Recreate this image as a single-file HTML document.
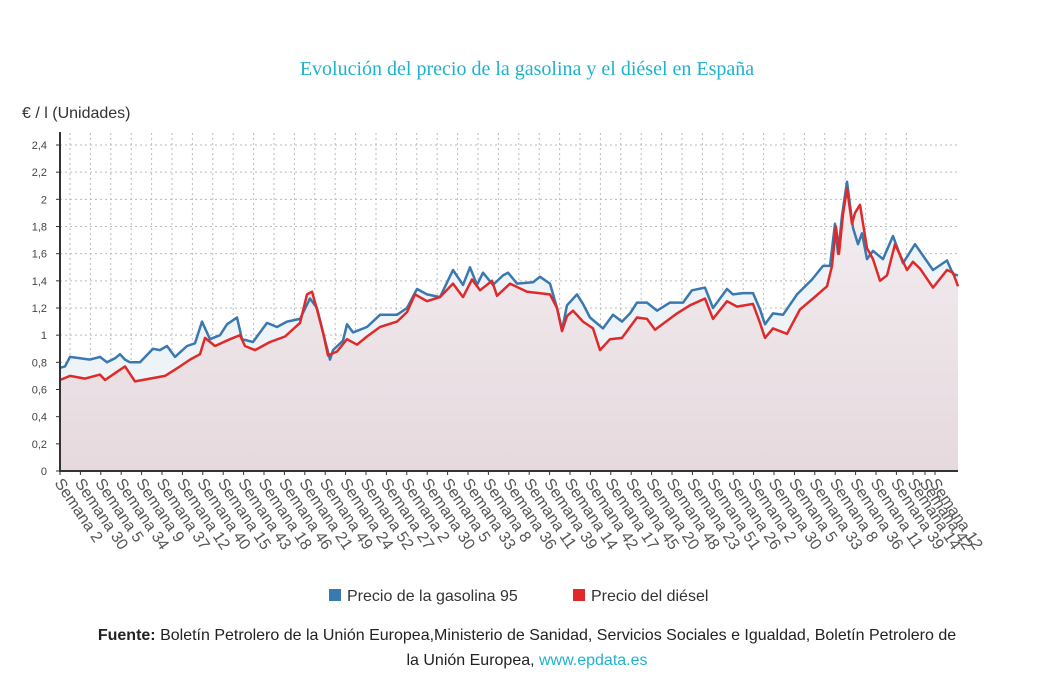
<!DOCTYPE html>
<html><head><meta charset="utf-8"><style>
body{margin:0;background:#fff;width:1056px;height:686px;overflow:hidden;font-family:"Liberation Sans",sans-serif}
svg{position:absolute;left:0;top:0}
</style></head><body>
<svg width="1056" height="686" xmlns="http://www.w3.org/2000/svg">
<defs>
<linearGradient id="rg" x1="0" y1="0" x2="0" y2="1"><stop offset="0" stop-color="#f3eef1"/><stop offset="1" stop-color="#e6d9de"/></linearGradient>
</defs>
<text x="527" y="75" text-anchor="middle" font-family="Liberation Serif,serif" font-size="20" fill="#1eb3cc">Evolución del precio de la gasolina y el diésel en España</text>
<text x="22" y="118" font-size="16" fill="#333">€ / l (Unidades)</text>
<g id="grid"></g><g id="areas"></g><g id="lines"></g><g id="axes"></g>
<g>
<rect x="329" y="589" width="12" height="12" fill="#3a78b0"/>
<text x="347" y="601" font-size="16" fill="#333">Precio de la gasolina 95</text>
<rect x="573" y="589" width="12" height="12" fill="#e02a2a"/>
<text x="591" y="601" font-size="16" fill="#333">Precio del diésel</text>
</g>
<text x="527" y="640" text-anchor="middle" font-size="16" fill="#222"><tspan font-weight="bold">Fuente:</tspan> Boletín Petrolero de la Unión Europea,Ministerio de Sanidad, Servicios Sociales e Igualdad, Boletín Petrolero de</text>
<text x="527" y="665" text-anchor="middle" font-size="16" fill="#222">la Unión Europea, <tspan fill="#1eb3cc">www.epdata.es</tspan></text>
</svg>
<script>
const gasWeeks=[0,5,10,20,30,40,47,55,60,65,70,80,93,100,107,115,127,135,142,150,160,167,177,182,193,207,217,227,240,250,257,263,270,273,283,287,293,307,320,337,347,357,367,380,393,403,410,417,423,433,443,448,457,473,480,490,497,502,507,517,523,530,543,553,562,570,577,587,597,610,623,632,645,653,667,673,683,693,700,705,713,723,737,752,763,770,775,778,782,787,793,798,802,807,813,823,833,843,855,873,887,893,898];
const gasVals=[0.76,0.77,0.84,0.83,0.82,0.84,0.80,0.83,0.86,0.82,0.80,0.80,0.90,0.89,0.92,0.84,0.92,0.94,1.10,0.97,1.00,1.08,1.13,0.97,0.95,1.09,1.06,1.10,1.12,1.27,1.20,1.02,0.82,0.89,0.96,1.08,1.02,1.06,1.15,1.15,1.20,1.34,1.30,1.28,1.48,1.37,1.50,1.37,1.46,1.37,1.44,1.46,1.38,1.39,1.43,1.38,1.20,1.04,1.22,1.30,1.23,1.13,1.05,1.15,1.10,1.16,1.24,1.24,1.18,1.24,1.24,1.33,1.35,1.20,1.34,1.30,1.31,1.31,1.19,1.08,1.16,1.15,1.30,1.41,1.51,1.51,1.82,1.60,1.88,2.13,1.79,1.67,1.75,1.56,1.62,1.56,1.73,1.53,1.67,1.48,1.55,1.45,1.44];
const dslWeeks=[0,10,25,40,45,55,65,75,90,105,120,130,140,145,155,170,180,185,195,210,225,240,247,252,257,263,268,277,287,297,307,320,337,347,355,367,380,393,403,412,420,432,437,450,467,490,497,502,507,513,523,533,540,550,562,570,577,587,595,617,630,645,653,667,677,693,700,705,713,727,740,753,767,772,776,779,783,787,792,795,800,807,813,820,827,835,847,853,860,873,887,893,898];
const dslVals=[0.67,0.70,0.68,0.71,0.67,0.72,0.77,0.66,0.68,0.70,0.77,0.82,0.86,0.98,0.92,0.97,1.00,0.92,0.89,0.95,0.99,1.09,1.30,1.32,1.19,1.02,0.85,0.88,0.97,0.93,0.99,1.06,1.10,1.17,1.30,1.25,1.28,1.38,1.28,1.41,1.33,1.40,1.29,1.38,1.32,1.30,1.20,1.03,1.14,1.18,1.10,1.05,0.89,0.97,0.98,1.06,1.13,1.12,1.04,1.16,1.22,1.27,1.12,1.25,1.21,1.23,1.09,0.98,1.05,1.01,1.19,1.27,1.36,1.51,1.80,1.60,1.89,2.08,1.82,1.90,1.96,1.64,1.56,1.40,1.44,1.67,1.48,1.54,1.49,1.35,1.48,1.46,1.36];
const yTicks=[0,0.2,0.4,0.6,0.8,1,1.2,1.4,1.6,1.8,2,2.2,2.4];
const yTickLabels=["0","0,2","0,4","0,6","0,8","1","1,2","1,4","1,6","1,8","2","2,2","2,4"];
const xTickWeeks=[0,20.4,40.8,61.2,81.6,102,122.4,142.8,163.2,183.6,204,224.4,244.8,265.2,285.6,306,326.4,346.8,367.2,387.6,408,428.4,448.8,469.2,489.6,510,530.4,550.8,571.2,591.6,612,632.4,652.8,673.2,693.6,714,734.4,754.8,775.2,795.6,816,836.4,853,865,875];
const xTickLabels=["Semana 2","Semana 30","Semana 5","Semana 34","Semana 9","Semana 37","Semana 12","Semana 40","Semana 15","Semana 43","Semana 18","Semana 46","Semana 21","Semana 49","Semana 24","Semana 52","Semana 27","Semana 2","Semana 30","Semana 5","Semana 33","Semana 8","Semana 36","Semana 11","Semana 39","Semana 14","Semana 42","Semana 17","Semana 45","Semana 20","Semana 48","Semana 23","Semana 51","Semana 26","Semana 2","Semana 30","Semana 5","Semana 33","Semana 8","Semana 36","Semana 11","Semana 39","Semana 14","Semana 42","Semana 12"];
const NS="http://www.w3.org/2000/svg";
const X0=60,X1=958,Y0=471,Y1=145;
const xScale=w=>X0+w;
const yScale=v=>Y0-(v/2.4)*(Y0-Y1);
function mk(t,a,p){const e=document.createElementNS(NS,t);for(const k in a)e.setAttribute(k,a[k]);p.appendChild(e);return e;}
const grid=document.getElementById('grid'),areas=document.getElementById('areas'),lines=document.getElementById('lines'),axes=document.getElementById('axes');
yTicks.forEach((v,i)=>{const y=yScale(v);
 const g=mk('line',{x1:X0,x2:X1,y1:y,y2:y,stroke:'#bbb','stroke-dasharray':'2,3'},grid);
 
 
 const t=mk('text',{x:47,y:y+4,'text-anchor':'end','font-size':11,fill:'#444'},axes);t.textContent=yTickLabels[i];
 
 
 mk('line',{x1:X0-4,x2:X0,y1:y,y2:y,stroke:'#333'},axes);
});
xTickWeeks.forEach((w,i)=>{const x=xScale(w);
 if(i<42){const g=mk('line',{x1:x+10,x2:x+10,y1:Y1-12,y2:Y0,stroke:'#bbb','stroke-dasharray':'2,3'},grid);
 
 }
 mk('line',{x1:x,x2:x,y1:Y0,y2:Y0+4,stroke:'#333'},axes);
 const t=mk('text',{x:0,y:0,'font-size':16,fill:'#555',transform:`translate(${x-6},${Y0+12}) rotate(56)`},axes);t.textContent=xTickLabels[i];
 
 
});
function path(ws,vs){return ws.map((w,i)=>(i?'L':'M')+xScale(w).toFixed(1)+','+yScale(vs[i]).toFixed(1)).join('');}
const gp=path(gasWeeks,gasVals),dp=path(dslWeeks,dslVals);
const ga=mk('path',{d:gp+`L${xScale(gasWeeks[gasWeeks.length-1])},${Y0}L${X0},${Y0}Z`,fill:'#eef3f8'},areas);


const da=mk('path',{d:dp+`L${xScale(dslWeeks[dslWeeks.length-1])},${Y0}L${X0},${Y0}Z`,fill:'url(#rg)'},areas);


const gl=mk('path',{d:gp,fill:'none',stroke:'#3a78b0','stroke-width':2.5,'stroke-linejoin':'round'},lines);


const dl=mk('path',{d:dp,fill:'none',stroke:'#e02a2a','stroke-width':2.5,'stroke-linejoin':'round'},lines);


const ya=mk('line',{x1:X0,x2:X0,y1:132,y2:Y0+1,stroke:'#333','stroke-width':2},axes);


const xa=mk('line',{x1:X0,x2:X1,y1:Y0,y2:Y0,stroke:'#333','stroke-width':2},axes);


</script>
</body></html>
